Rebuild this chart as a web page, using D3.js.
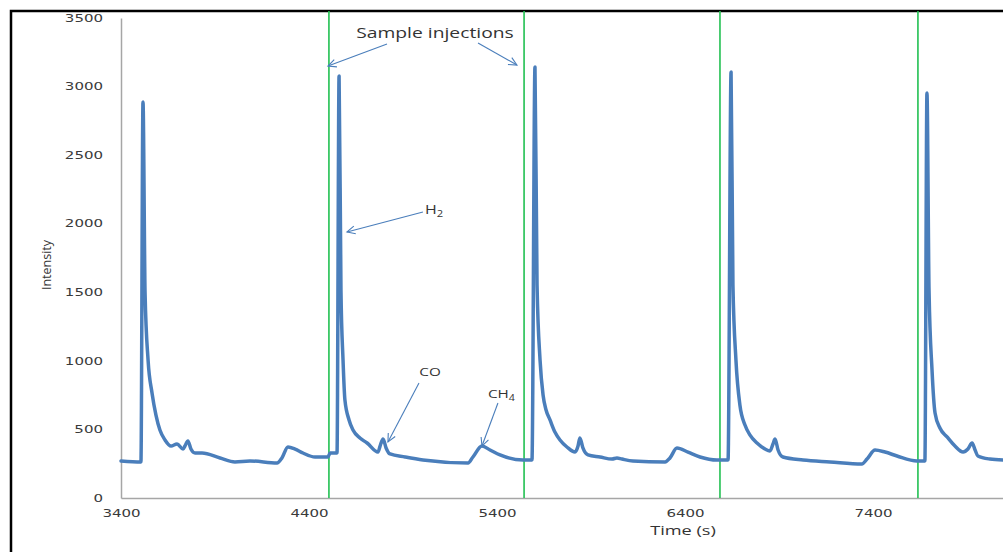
<!DOCTYPE html>
<html>
<head>
<meta charset="utf-8">
<script src="https://cdn.jsdelivr.net/npm/d3@7.9.0/dist/d3.min.js"></script>
<style>
  html, body { margin: 0; padding: 0; background: #fff; }
  svg { display: block; }
</style>
</head>
<body>
<svg id="chart" width="1003" height="552"></svg>
<script>
/* ---------- data ---------- */
const times = [
  3400, 3506, 3517, 3528, 3544, 3565, 3586, 3607, 3634, 3666, 3698, 3730, 3740, 3756, 3772, 3794, 3831, 3927, 4006, 4086, 4230, 4256, 4288, 4326, 4368, 4432, 4501, 4512, 4549,
  4560, 4570, 4581, 4591, 4613, 4634, 4671, 4709, 4767, 4778, 4794, 4810, 4831, 4911, 5006, 5246, 5272, 5320, 5363, 5416, 5538, 5586,
  5602, 5613, 5629, 5645, 5661, 5682, 5708, 5735, 5772, 5815, 5831, 5841, 5857, 5884, 5948, 6012, 6038, 6065, 6123, 6294, 6320, 6357, 6416, 6480, 6570, 6629,
  6645, 6655, 6671, 6692, 6719, 6746, 6783, 6826, 6852, 6868, 6879, 6895, 6921, 7028, 7171, 7341, 7368, 7411, 7464, 7528, 7634, 7676,
  7687, 7698, 7714, 7730, 7756, 7794, 7836, 7879, 7905, 7927, 7943, 7958, 8022, 8091
];
const intensity = [
  270, 263, 2888, 1495, 1006, 766, 605, 496, 423, 379, 394, 357, 379, 416, 357, 328, 328, 292, 263, 270, 255, 292, 372, 357, 328, 299, 299, 328, 328,
  3077, 1517, 1006, 715, 569, 496, 438, 401, 335, 379, 430, 365, 321, 299, 277, 255, 299, 379, 350, 314, 277, 277,
  3143, 1553, 1006, 751, 642, 569, 481, 423, 372, 335, 379, 438, 365, 314, 299, 284, 292, 284, 270, 263, 292, 365, 335, 299, 277, 277,
  3106, 1553, 1006, 678, 532, 459, 401, 357, 343, 394, 430, 350, 299, 277, 263, 248, 284, 350, 335, 306, 270, 270,
  2953, 1517, 933, 620, 510, 445, 379, 335, 357, 401, 350, 306, 284, 277
];
const injectionTimes = [4506, 5544, 6586, 7639];
const xTicks = [3400, 4400, 5400, 6400, 7400];
const yTicks = [0, 500, 1000, 1500, 2000, 2500, 3000, 3500];

// annotation texts and arrows, placed in data units
const textLabels = [
  { text: 'Sample injections', sub: '', t: 5070, v: 3354, anchor: 'middle', size: 14.5 },
  { text: 'H', sub: '2', t: 5017, v: 2070, anchor: 'start', size: 12 },
  { text: 'CO', sub: '', t: 5044, v: 891, anchor: 'middle', size: 11.5 },
  { text: 'CH', sub: '4', t: 5352, v: 729, anchor: 'start', size: 11.5 }
];
const arrows = [
  { t0: 4815, v0: 3310, t1: 4501, v1: 3150 },
  { t0: 5299, v0: 3318, t1: 5506, v1: 3157 },
  { t0: 5006, v0: 2085, t1: 4602, v1: 1940 },
  { t0: 4985, v0: 839, t1: 4820, v1: 409 },
  { t0: 5405, v0: 693, t1: 5320, v1: 379 }
];

/* ---------- layout ---------- */
const svg = d3.select('#chart');
const plotLeft = 121, plotBottom = 498, plotTop = 18, frameTop = 11;

const x = d3.scaleLinear().domain([3400, 8100]).range([plotLeft, plotLeft + 4700 * 0.188]);
const y = d3.scaleLinear().domain([0, 3500]).range([plotBottom, plotTop]);

const blue = '#4a7ebb';
const stretch = 1.5;

// outer frame (only top and left edges are inside the picture)
svg.append('path')
  .attr('d', 'M11,560V11H1010')
  .attr('fill', 'none')
  .attr('stroke', '#000')
  .attr('stroke-width', 2.5);

/* ---------- axes ---------- */
function styleAxis(g) {
  g.select('.domain').attr('stroke', '#a6a6a6').attr('stroke-width', 1.5);
  g.selectAll('.tick line').remove();
  g.selectAll('text')
    .attr('fill', '#3a3a3a')
    .style('font-family', 'DejaVu Sans')
    .style('font-size', '10px')
    .each(function () {
      const w = this.getComputedTextLength();
      d3.select(this).attr('textLength', w * stretch).attr('lengthAdjust', 'spacingAndGlyphs');
    });
}

svg.append('g')
  .attr('transform', `translate(0,${plotBottom})`)
  .call(d3.axisBottom(x).tickValues(xTicks).tickFormat(d3.format('d')).tickSize(0).tickPadding(12).tickSizeOuter(0))
  .call(styleAxis);

svg.append('g')
  .attr('transform', `translate(${plotLeft},0)`)
  .call(d3.axisLeft(y).tickValues(yTicks).tickFormat(d3.format('d')).tickSize(0).tickPadding(18).tickSizeOuter(0))
  .call(styleAxis);

// axis titles
svg.append('g')
  .attr('transform', 'translate(683,535) scale(1.4,1)')
  .append('text')
  .attr('text-anchor', 'middle')
  .attr('fill', '#333')
  .style('font-family', 'Open Sans')
  .style('font-size', '13px')
  .text('Time (s)');

svg.append('text')
  .attr('transform', 'translate(51,265) rotate(-90)')
  .attr('text-anchor', 'middle')
  .attr('fill', '#333')
  .style('font-family', 'Open Sans')
  .style('font-size', '12.5px')
  .text('Intensity');

/* ---------- injection markers ---------- */
svg.append('g').selectAll('line')
  .data(injectionTimes)
  .join('line')
  .attr('x1', d => x(d)).attr('x2', d => x(d))
  .attr('y1', y(0)).attr('y2', frameTop)
  .attr('stroke', '#22c052')
  .attr('stroke-width', 1.6);

/* ---------- signal trace ---------- */
const series = times.map((t, i) => ({ t, v: intensity[i] }));
const line = d3.line()
  .x(d => x(d.t))
  .y(d => y(d.v))
  .curve(d3.curveMonotoneX);

svg.append('path')
  .datum(series)
  .attr('d', line)
  .attr('fill', 'none')
  .attr('stroke', blue)
  .attr('stroke-width', 3.5)
  .attr('stroke-linejoin', 'round')
  .attr('stroke-linecap', 'round');

/* ---------- annotations ---------- */
const ag = svg.append('g').attr('class', 'arrows');
arrows.forEach(a => {
  const x0 = x(a.t0), y0 = y(a.v0), x1 = x(a.t1), y1 = y(a.v1);
  const ang = Math.atan2(y1 - y0, x1 - x0);
  const len = 9, spread = 0.45;
  ag.append('line')
    .attr('x1', x0).attr('y1', y0).attr('x2', x1).attr('y2', y1)
    .attr('stroke', blue).attr('stroke-width', 1.1);
  ag.append('path')
    .attr('d', `M${x1 - len * Math.cos(ang - spread)},${y1 - len * Math.sin(ang - spread)}L${x1},${y1}L${x1 - len * Math.cos(ang + spread)},${y1 - len * Math.sin(ang + spread)}`)
    .attr('fill', 'none').attr('stroke', blue).attr('stroke-width', 1.1);
});

textLabels.forEach(l => {
  const t = svg.append('g')
    .attr('transform', `translate(${x(l.t)},${y(l.v)}) scale(1.33,1)`)
    .append('text')
    .attr('text-anchor', l.anchor)
    .attr('fill', '#333')
    .style('font-family', 'Open Sans')
    .style('font-size', l.size + 'px')
    .text(l.text);
  if (l.sub) {
    t.append('tspan')
      .attr('dy', 3)
      .style('font-size', (l.size * 0.7) + 'px')
      .text(l.sub);
  }
});
</script>
</body>
</html>
